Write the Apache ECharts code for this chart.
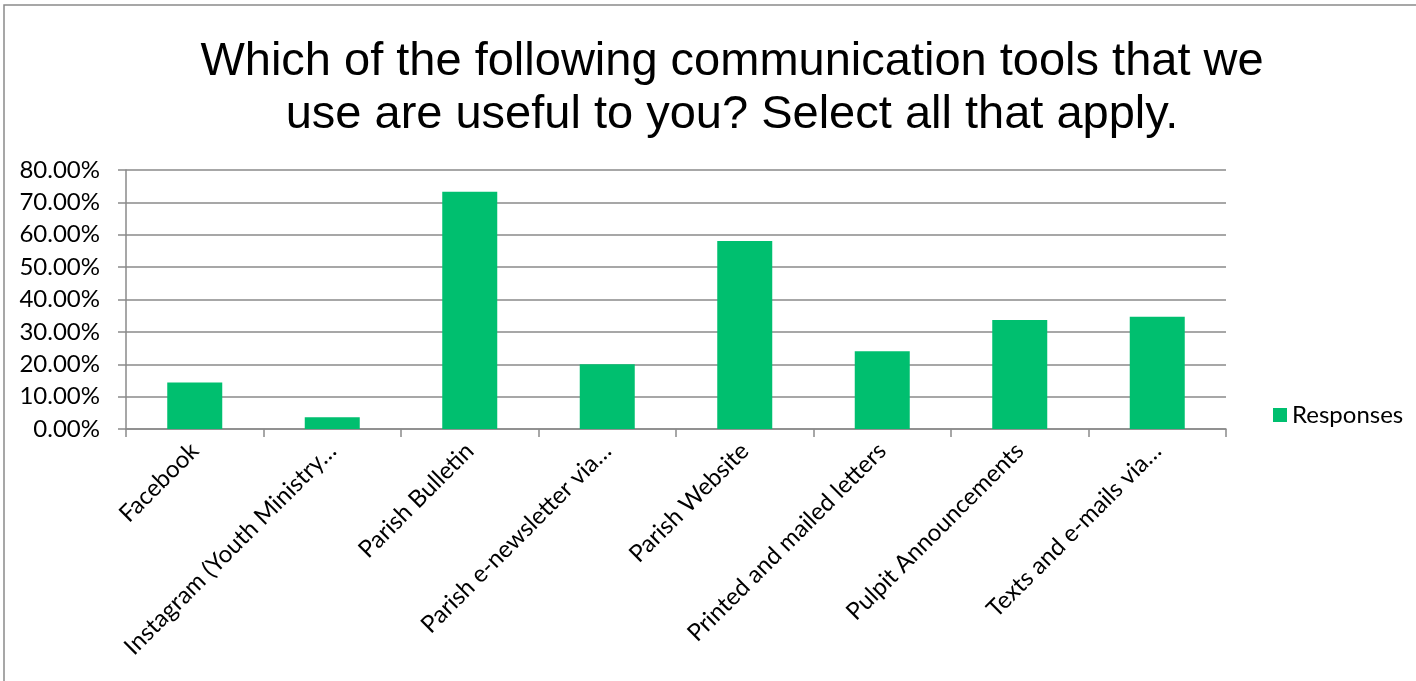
<!DOCTYPE html>
<html>
<head>
<meta charset="utf-8">
<script src="https://cdn.jsdelivr.net/npm/echarts@6/dist/echarts.min.js"></script>
<style>
html,body{margin:0;padding:0;background:#fff;}
#chart{width:1416px;height:681px;}
</style>
</head>
<body>
<div id="chart"></div>
<script>
const titleText = "Which of the following communication tools that we\nuse are useful to you? Select all that apply.";
const categories = [
  "Facebook",
  "Instagram (Youth Ministry…",
  "Parish Bulletin",
  "Parish e-newsletter via…",
  "Parish Website",
  "Printed and mailed letters",
  "Pulpit Announcements",
  "Texts and e-mails via…"
];
const responses = [0.1433, 0.036, 0.733, 0.200, 0.581, 0.240, 0.337, 0.347];
const seriesName = "Responses";
const yTicks = { min: 0, max: 0.8, interval: 0.1 };

const chart = echarts.init(document.getElementById('chart'), null, {renderer: 'canvas'});
const labelFont = 'Lato, "Open Sans", "Noto Sans", sans-serif';
chart.setOption({
  animation: false,
  backgroundColor: '#fff',
  graphic: [
    { type: 'rect', shape: { x: 4, y: 5, width: 1430, height: 700 },
      style: { fill: 'none', stroke: '#8a8a8a', lineWidth: 1.5 }, silent: true }
  ],
  title: {
    text: titleText,
    left: 727,
    top: 31,
    textAlign: 'center',
    textStyle: {
      fontFamily: '"Liberation Sans", Arial, sans-serif',
      fontSize: 47,
      fontWeight: 'normal',
      color: '#000',
      lineHeight: 53
    }
  },
  legend: {
    data: [seriesName],
    left: 1268,
    top: 398,
    itemWidth: 14,
    itemHeight: 14,
    itemGap: 8,
    icon: 'rect',
    textStyle: { fontFamily: labelFont, fontSize: 24, color: '#000' }
  },
  grid: { left: 126, right: 190, top: 170, bottom: 252, containLabel: false },
  xAxis: {
    type: 'category',
    data: categories,
    boundaryGap: true,
    axisLine: { lineStyle: { color: '#8a8a8a', width: 1.5 } },
    axisTick: { show: true, alignWithLabel: false, length: 8, lineStyle: { color: '#8a8a8a', width: 1.5 } },
    axisLabel: {
      interval: 0,
      rotate: 45,
      margin: 18,
      fontFamily: labelFont,
      fontSize: 24,
      color: '#000'
    }
  },
  yAxis: {
    type: 'value',
    min: yTicks.min,
    max: yTicks.max,
    interval: yTicks.interval,
    axisLine: { show: true, lineStyle: { color: '#8a8a8a', width: 1.5 } },
    axisTick: { show: true, length: 8, lineStyle: { color: '#8a8a8a', width: 1.5 } },
    splitLine: { show: true, lineStyle: { color: '#8a8a8a', width: 1.5 } },
    axisLabel: {
      margin: 26,
      fontFamily: labelFont,
      fontSize: 24,
      color: '#000',
      formatter: v => (v * 100).toFixed(2) + '%'
    }
  },
  series: [{
    name: seriesName,
    type: 'bar',
    data: responses,
    barWidth: '40%',
    itemStyle: { color: '#00BF6F' }
  }]
});
</script>
</body>
</html>
